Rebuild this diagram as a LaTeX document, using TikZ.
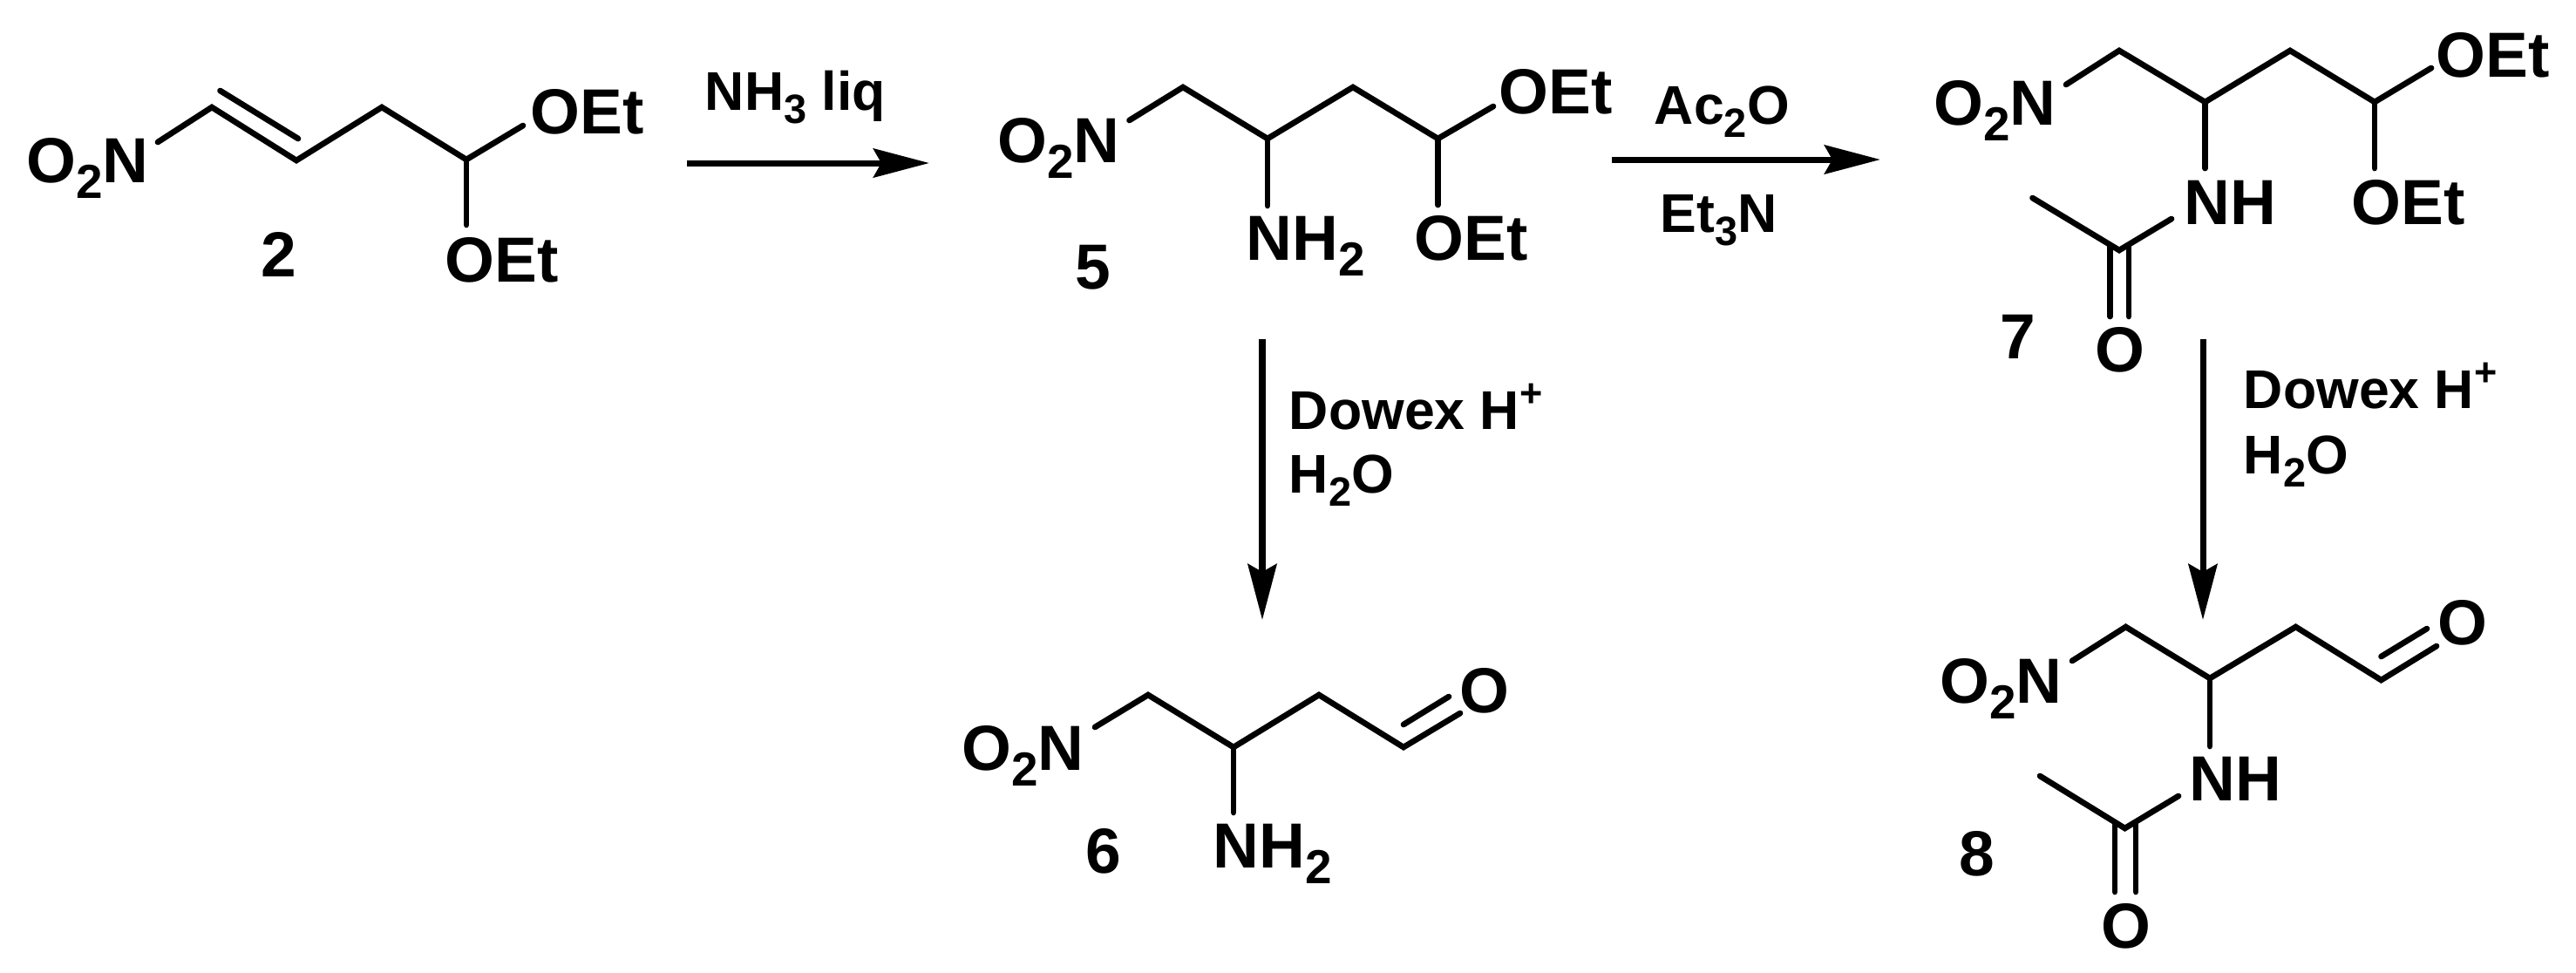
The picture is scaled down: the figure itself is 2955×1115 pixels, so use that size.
\documentclass[tikz,border=0pt]{standalone}
\usepackage{fontspec}
\setmainfont{Liberation Sans}
\usetikzlibrary{arrows.meta}
\newcommand{\chsub}[1]{\raisebox{-0.25em}{\scalebox{.75}{#1}}}
\newcommand{\chsup}[1]{\raisebox{0.4em}{\scalebox{.72}{#1}}}
\tikzset{
    atom/.style={anchor=base west,inner sep=0pt,xshift=-0.6pt,font=\fontsize{20.8}{24}\selectfont\bfseries},
    reagent/.style={anchor=base west,inner sep=0pt,xshift=-0.5pt,font=\fontsize{17.8}{21}\selectfont\bfseries},
    bond/.style={line width=1.9pt,line cap=round,line join=miter},
    rxnarrow/.style={line width=2pt,-{Stealth[length=6.4mm,width=3.3mm,inset=0.9mm]}}
}
\begin{document}
\begin{tikzpicture}[x=0.1mm,y=-0.1mm]
    \useasboundingbox (0,0) rectangle (2955,1115);

    % Compound 2
    \foreach \n/\x/\y in {a/181/163,b/243/123,c/340/184,d/438/123,e/535/183,f/600/144,g/535/258,h/252.5/104,i/342/159}
        \coordinate (two\n) at (\x,\y);
    \draw[bond] (twoa) -- (twob) -- (twoc) -- (twod) -- (twoe) -- (twof);
    \draw[bond] (twoe) -- (twog);
    \draw[bond] (twoh) -- (twoi);
    \node[atom] (twoN) at (32,209) {O\chsub{2}N};
    \node[atom] (twoOa) at (610,153) {OEt};
    \node[atom] (twoOb) at (512,323) {OEt};
    \node[atom] (twoL) at (301,317) {2};

    % Compound 5
    \foreach \n/\x/\y in {a/1295.5/138,b/1357/100,c/1454/159,d/1552/100,e/1649.5/159,f/1713/122,g/1649.5/235,h/1454/236}
        \coordinate (five\n) at (\x,\y);
    \draw[bond] (fivea) -- (fiveb) -- (fivec) -- (fived) -- (fivee) -- (fivef);
    \draw[bond] (fivee) -- (fiveg);
    \draw[bond] (fivec) -- (fiveh);
    \node[atom] (fiveN) at (1146,186) {O\chsub{2}N};
    \node[atom] (fiveOa) at (1721,130) {OEt};
    \node[atom] (fiveOb) at (1624,298) {OEt};
    \node[atom] (fiveNH) at (1431,298) {NH\chsub{2}};
    \node[atom] (fiveL) at (1235,331) {5};

    % Compound 7
    \foreach \n/\x/\y in {a/2370/97,b/2431/58,c/2529.5/117,d/2627/58,e/2724/117,f/2789/78,g/2724/193,h/2529.5/193,i/2491/251,j/2431/287,k/2331.5/227,l/2420.5/281,m/2420.5/363,n/2442/281,o/2442/363}
        \coordinate (seven\n) at (\x,\y);
    \draw[bond] (sevena) -- (sevenb) -- (sevenc) -- (sevend) -- (sevene) -- (sevenf);
    \draw[bond] (sevene) -- (seveng);
    \draw[bond] (sevenc) -- (sevenh);
    \draw[bond] (seveni) -- (sevenj) -- (sevenk);
    \draw[bond] (sevenl) -- (sevenm);
    \draw[bond] (sevenn) -- (seveno);
    \node[atom] (sevenN) at (2220,143) {O\chsub{2}N};
    \node[atom] (sevenOa) at (2796,88) {OEt};
    \node[atom] (sevenOb) at (2699,257) {OEt};
    \node[atom] (sevenNH) at (2507,257) {NH};
    \node[atom] (sevenO) at (2405,426) {O};
    \node[atom] (sevenL) at (2296,411) {7};

    % Compound 6
    \foreach \n/\x/\y in {a/1256/834,b/1317/797,c/1415/857,d/1513/797,e/1610/857,f/1675/818,g/1610/831,h/1662/799,i/1415/932}
        \coordinate (six\n) at (\x,\y);
    \draw[bond] (sixa) -- (sixb) -- (sixc) -- (sixd) -- (sixe) -- (sixf);
    \draw[bond] (sixg) -- (sixh);
    \draw[bond] (sixc) -- (sixi);
    \node[atom] (sixN) at (1105,883) {O\chsub{2}N};
    \node[atom] (sixO) at (1676,817) {O};
    \node[atom] (sixNH) at (1393,995) {NH\chsub{2}};
    \node[atom] (sixL) at (1247,1001) {6};

    % Compound 8
    \foreach \n/\x/\y in {a/2377/758,b/2438.5/719,c/2535/778,d/2633.5/719,e/2731.5/780,f/2795/741,g/2731.5/753,h/2784/721,i/2535/856,j/2499/913,k/2437.5/950,l/2340/890,m/2426/944,n/2426/1023,o/2450/944,p/2450/1023}
        \coordinate (eight\n) at (\x,\y);
    \draw[bond] (eighta) -- (eightb) -- (eightc) -- (eightd) -- (eighte) -- (eightf);
    \draw[bond] (eightg) -- (eighth);
    \draw[bond] (eightc) -- (eighti);
    \draw[bond] (eightj) -- (eightk) -- (eightl);
    \draw[bond] (eightm) -- (eightn);
    \draw[bond] (eighto) -- (eightp);
    \node[atom] (eightN) at (2227,806) {O\chsub{2}N};
    \node[atom] (eightOa) at (2798,739) {O};
    \node[atom] (eightNH) at (2513,918) {NH};
    \node[atom] (eightOb) at (2412,1087) {O};
    \node[atom] (eightL) at (2249,1004) {8};

    % Reaction arrows
    \foreach \n/\x/\y in {a/788/187,b/1066/187,c/1849/183,d/2157/183,e/1448/389,f/1448/711,g/2527/389,h/2527/711}
        \coordinate (rxn\n) at (\x,\y);
    \draw[rxnarrow] (rxna) -- (rxnb);
    \draw[rxnarrow] (rxnc) -- (rxnd);
    \draw[rxnarrow] (rxne) -- (rxnf);
    \draw[rxnarrow] (rxng) -- (rxnh);

    % Reagents
    \node[reagent] (nhliq) at (810,126) {NH\chsub{3} liq};
    \node[reagent] (acO) at (1899,142) {Ac\chsub{2}O};
    \node[reagent] (etN) at (1906,266) {Et\chsub{3}N};
    \node[reagent] (dowexA) at (1480,492) {Dowex H\chsup{+}};
    \node[reagent] (waterA) at (1480,565) {H\chsub{2}O};
    \node[reagent] (dowexB) at (2575,468) {Dowex H\chsup{+}};
    \node[reagent] (waterB) at (2575,543) {H\chsub{2}O};
\end{tikzpicture}
\end{document}
